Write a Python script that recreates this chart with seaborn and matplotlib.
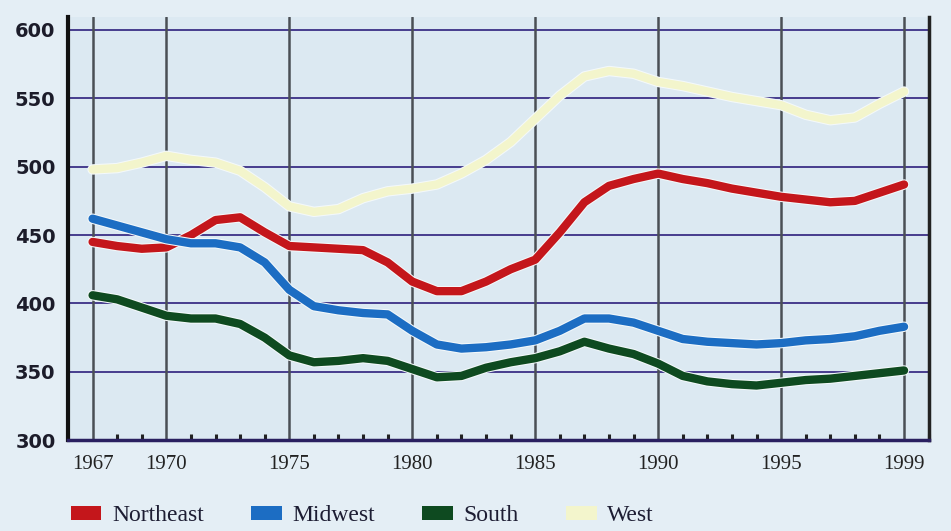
import matplotlib.pyplot as plt
import matplotlib.patheffects as pe
from matplotlib.patches import Patch
from matplotlib.ticker import MultipleLocator
import numpy as np
import pandas as pd
import seaborn as sns

# data (line ends on the gridline labelled 1999)
years = list(range(1967, 2001))
northeast = [445, 442, 440, 441, 450, 461, 463, 452, 442, 441, 440, 439, 430, 416, 409, 409, 416,
             425, 432, 452, 474, 486, 491, 495, 491, 488, 484, 481, 478, 476, 474, 475, 481, 487]
midwest = [462, 457, 452, 447, 444, 444, 441, 430, 410, 398, 395, 393, 392, 380, 370, 367, 368,
           370, 373, 380, 389, 389, 386, 380, 374, 372, 371, 370, 371, 373, 374, 376, 380, 383]
south = [406, 403, 397, 391, 389, 389, 385, 375, 362, 357, 358, 360, 358, 352, 346, 347, 353,
         357, 360, 365, 372, 367, 363, 356, 347, 343, 341, 340, 342, 344, 345, 347, 349, 351]
west = [498, 499, 503, 508, 505, 503, 497, 485, 471, 467, 469, 477, 482, 484, 487, 495, 505,
        518, 535, 552, 566, 570, 568, 562, 559, 555, 551, 548, 545, 538, 534, 536, 546, 555]

regions = ["Northeast", "Midwest", "South", "West"]
colors = ["#c4161b", "#1c6dc3", "#0e4a20", "#f3f5cc"]
tick_years = [1967, 1970, 1975, 1980, 1985, 1990, 1995, 2000]
tick_labels = ["1967", "1970", "1975", "1980", "1985", "1990", "1995", "1999"]
y_ticks = [300, 350, 400, 450, 500, 550, 600]

df = pd.DataFrame({"year": years * 4,
                   "value": northeast + midwest + south + west,
                   "region": np.repeat(regions, len(years))})

sns.set_theme(style="white")
fig = plt.figure(figsize=(9.51, 5.31), dpi=100, facecolor="#e4eef5")
ax = fig.add_axes([0.0715, 0.171, 0.905, 0.797])
ax.set_facecolor("#dce9f2")

# grid
for y in y_ticks[1:]:
    ax.axhline(y, color="#3b2f86", lw=1.3, zorder=1)
for x in tick_years:
    ax.axvline(x, color="#4a4f55", lw=1.8, zorder=1)

sns.lineplot(data=df, x="year", y="value", hue="region", palette=colors,
             linewidth=6, legend=False, ax=ax, zorder=3,
             path_effects=[pe.Stroke(linewidth=7.5, foreground="#f4f9fb"), pe.Normal()])

ax.set_xlim(1966, 2001)
ax.set_ylim(300, 609.5)
ax.set_xticks(tick_years)
ax.set_xticklabels(tick_labels, family="Liberation Serif", fontsize=15, color="#222222")
ax.xaxis.set_minor_locator(MultipleLocator(1))
ax.set_yticks(y_ticks)
ax.set_yticklabels([str(v) for v in y_ticks], family="DejaVu Sans", fontweight="bold",
                   fontsize=14, color="#1c1c2a")
ax.tick_params(axis="x", which="major", length=0, pad=11)
ax.tick_params(axis="x", which="minor", direction="in", length=4, width=2.2, color="#222222",
               bottom=True)
ax.tick_params(axis="y", length=0, pad=9)
ax.set_xlabel("")
ax.set_ylabel("")

ax.spines["top"].set_visible(False)
ax.spines["left"].set_color("#111111")
ax.spines["left"].set_linewidth(3)
ax.spines["right"].set_color("#222222")
ax.spines["right"].set_linewidth(2.5)
ax.spines["bottom"].set_color("#2a2060")
ax.spines["bottom"].set_linewidth(2.5)

handles = [Patch(facecolor=c, edgecolor="none") for c in colors]
fig.legend(handles, regions, loc="lower left", bbox_to_anchor=(0.052, -0.031), ncol=4,
           frameon=False, prop={"family": "Liberation Serif", "size": 17},
           handlelength=1.3, handleheight=0.55, handletextpad=0.45, columnspacing=2.0,
           labelcolor="#1d1d33")

fig.savefig("out.png", dpi=100, facecolor=fig.get_facecolor())
